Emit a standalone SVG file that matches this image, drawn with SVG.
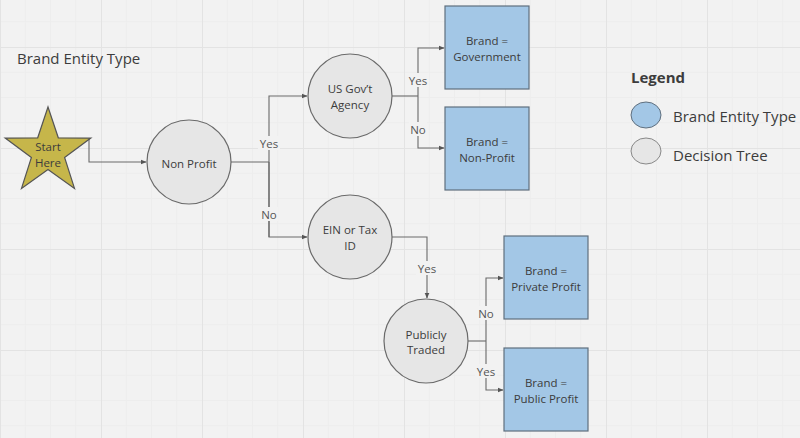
<svg xmlns="http://www.w3.org/2000/svg" width="800" height="438" viewBox="0 0 800 438">
<defs>
<pattern id="grid" patternUnits="userSpaceOnUse" x="0" y="47" width="101" height="101">
<path d="M25.25 0V101M50.5 0V101M75.75 0V101M0 25.25H101M0 50.5H101M0 75.75H101" stroke="#ededed" stroke-width="1" fill="none"/>
<path d="M0.5 0V101M0 0.5H101" stroke="#e3e3e3" stroke-width="1" fill="none"/>
</pattern>
<marker id="arr" markerWidth="6" markerHeight="6" refX="5.5" refY="3" orient="auto" markerUnits="userSpaceOnUse">
<path d="M0 0.5L6 3L0 5.5Z" fill="#555"/>
</marker>
<style>
.t{font-family:"Open Sans","Liberation Sans",sans-serif;fill:#3c3c3c;text-anchor:middle;dominant-baseline:central}
.n{font-size:11.5px}
.l{font-size:11.5px;fill:#555}
.c{fill:#e6e6e6;stroke:#6a6a6a;stroke-width:1.2}
.b{fill:#a3c7e6;stroke:#5f6f7e;stroke-width:1.2}
.w{fill:none;stroke:#6a6a6a;stroke-width:1.1}
.lb{fill:#f2f2f2}
.h{font-family:"Open Sans","Liberation Sans",sans-serif;fill:#3c3c3c;font-size:15px;dominant-baseline:central}
</style>
</defs>
<rect width="800" height="438" fill="#f2f2f2"/>
<rect width="800" height="438" fill="url(#grid)"/>

<text class="h" x="17" y="58">Brand Entity Type</text>

<g id="connectors">
<path class="w" d="M89 139V162H146" marker-end="url(#arr)"/>
<path class="w" d="M231 162H269"/>
<path class="w" d="M269 237V96H307" marker-end="url(#arr)"/>
<path class="w" d="M269 162V237H307" marker-end="url(#arr)"/>
<path class="w" d="M392 96H418"/>
<path class="w" d="M418 96V48H444" marker-end="url(#arr)"/>
<path class="w" d="M418 96V148H444" marker-end="url(#arr)"/>
<path class="w" d="M392 237H427V298" marker-end="url(#arr)"/>
<path class="w" d="M468 341H486"/>
<path class="w" d="M486 341V278H503" marker-end="url(#arr)"/>
<path class="w" d="M486 341V390H503" marker-end="url(#arr)"/>
<rect class="lb" x="258" y="136" width="22" height="14"/>
<text class="t l" x="269" y="143">Yes</text>
<rect class="lb" x="260" y="207" width="18" height="14"/>
<text class="t l" x="269" y="214">No</text>
<rect class="lb" x="407" y="73" width="22" height="14"/>
<text class="t l" x="418" y="80">Yes</text>
<rect class="lb" x="409" y="122" width="18" height="14"/>
<text class="t l" x="418" y="129">No</text>
<rect class="lb" x="416" y="261" width="22" height="14"/>
<text class="t l" x="427" y="268">Yes</text>
<rect class="lb" x="477" y="306" width="18" height="14"/>
<text class="t l" x="486" y="313">No</text>
<rect class="lb" x="475" y="364" width="22" height="14"/>
<text class="t l" x="486" y="371">Yes</text>
</g>

<g id="start">
<polygon points="48,107 58.3,137.8 90.8,138.1 64.6,157.4 74.5,188.4 48,169.5 21.5,188.4 31.4,157.4 5.2,138.1 37.7,137.8" fill="#c6b64a" stroke="#555" stroke-width="1.2" stroke-linejoin="miter"/>
<text class="t n" x="48" y="146">Start</text>
<text class="t n" x="48" y="162">Here</text>
</g>

<g id="nonprofit">
<circle class="c" cx="189" cy="162" r="42"/>
<text class="t n" x="189" y="163">Non Profit</text>
</g>

<g id="usgov">
<circle class="c" cx="350" cy="96" r="42"/>
<text class="t n" x="350" y="88">US Gov’t</text>
<text class="t n" x="350" y="104">Agency</text>
</g>

<g id="ein">
<circle class="c" cx="350" cy="237" r="42"/>
<text class="t n" x="350" y="229">EIN or Tax</text>
<text class="t n" x="350" y="245">ID</text>
</g>

<g id="publicly">
<circle class="c" cx="426" cy="341" r="42"/>
<text class="t n" x="426" y="334">Publicly</text>
<text class="t n" x="426" y="349">Traded</text>
</g>

<g id="government">
<rect class="b" x="445" y="6" width="84" height="83"/>
<text class="t n" x="487" y="40">Brand =</text>
<text class="t n" x="487" y="56">Government</text>
</g>

<g id="nonprofitbrand">
<rect class="b" x="445" y="107" width="84" height="83"/>
<text class="t n" x="487" y="141">Brand =</text>
<text class="t n" x="487" y="157">Non-Profit</text>
</g>

<g id="private">
<rect class="b" x="504" y="236" width="84" height="83"/>
<text class="t n" x="546" y="270">Brand =</text>
<text class="t n" x="546" y="286">Private Profit</text>
</g>

<g id="public">
<rect class="b" x="504" y="348" width="84" height="83"/>
<text class="t n" x="546" y="382">Brand =</text>
<text class="t n" x="546" y="398">Public Profit</text>
</g>

<g id="legend">
<text class="h" x="631" y="77" font-weight="bold" font-size="14">Legend</text>
<ellipse cx="646" cy="115" rx="15" ry="13" fill="#a3c7e6" stroke="#5f6f7e" stroke-width="1"/>
<text class="h" x="673" y="116">Brand Entity Type</text>
<ellipse cx="646" cy="151" rx="15" ry="13" fill="#e6e6e6" stroke="#888" stroke-width="1"/>
<text class="h" x="673" y="155">Decision Tree</text>
</g>
</svg>
